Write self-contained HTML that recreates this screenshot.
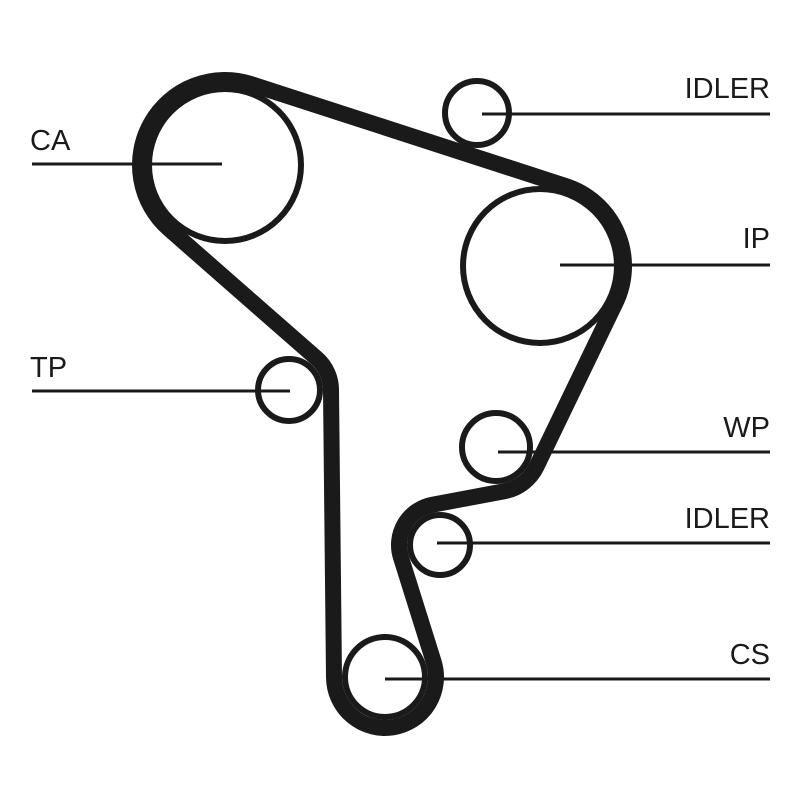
<!DOCTYPE html>
<html><head><meta charset="utf-8"><style>
html,body{margin:0;padding:0;background:#fff;width:800px;height:800px;overflow:hidden}
text{font-family:"Liberation Sans",sans-serif;font-size:29px;fill:#1a1a1a}
</style></head><body>
<svg id="s" width="800" height="800" viewBox="0 0 800 800" xmlns="http://www.w3.org/2000/svg">
<g fill="none" stroke="#1a1a1a" stroke-width="6">
<circle cx="225" cy="165" r="76"/>
<circle cx="477" cy="113" r="32"/>
<circle cx="540" cy="266" r="77"/>
<circle cx="289" cy="390" r="31"/>
<circle cx="496" cy="447" r="34"/>
<circle cx="440" cy="545" r="30"/>
<circle cx="385" cy="677" r="40"/>
</g>
<path id="belt" fill="none" stroke="#1a1a1a" stroke-width="16" stroke-linejoin="round" d=""/>
<g stroke="#1a1a1a" stroke-width="3">
<line x1="32" y1="164" x2="222" y2="164"/>
<line x1="482" y1="114" x2="770" y2="114"/>
<line x1="560" y1="265" x2="770" y2="265"/>
<line x1="32" y1="391" x2="290" y2="391"/>
<line x1="498" y1="452" x2="770" y2="452"/>
<line x1="437" y1="543" x2="770" y2="543"/>
<line x1="385" y1="679" x2="770" y2="679"/>
</g>
<text x="30" y="150">CA</text>
<text x="770" y="98" text-anchor="end">IDLER</text>
<text x="770" y="248" text-anchor="end">IP</text>
<text x="30" y="377">TP</text>
<text x="770" y="437" text-anchor="end">WP</text>
<text x="770" y="528" text-anchor="end">IDLER</text>
<text x="770" y="664" text-anchor="end">CS</text>
</svg>
<script>
(function(){
var P=[[225,165,85],[540,266,84],[496,447,45],[440,545,-41],[385,677,51],[289,390,-42]];
var n=P.length,T=[];
for(var i=0;i<n;i++){
 var A=P[i],B=P[(i+1)%n];
 var Dx=B[0]-A[0],Dy=B[1]-A[1],L2=Dx*Dx+Dy*Dy,k=B[2]-A[2],t=Math.sqrt(L2-k*k);
 var a=(t*Dx+k*Dy)/L2,b=(t*Dy-k*Dx)/L2;
 var rx=-b,ry=a;
 T.push([[A[0]-A[2]*rx,A[1]-A[2]*ry],[B[0]-B[2]*rx,B[1]-B[2]*ry]]);
}
var d="";
for(var i=0;i<n;i++){
 var seg=T[i],nxt=T[(i+1)%n],C=P[(i+1)%n];
 if(i==0)d+="M"+seg[0][0].toFixed(2)+" "+seg[0][1].toFixed(2);
 d+=" L"+seg[1][0].toFixed(2)+" "+seg[1][1].toFixed(2);
 var s=C[2],r=Math.abs(s);
 var a1=Math.atan2(seg[1][1]-C[1],seg[1][0]-C[0]),a2=Math.atan2(nxt[0][1]-C[1],nxt[0][0]-C[0]);
 var sw=s>0?1:0,da;
 if(sw){da=a2-a1;while(da<0)da+=2*Math.PI;}else{da=a1-a2;while(da<0)da+=2*Math.PI;}
 var la=da>Math.PI?1:0;
 d+=" A"+r+" "+r+" 0 "+la+" "+sw+" "+nxt[0][0].toFixed(2)+" "+nxt[0][1].toFixed(2);
}
d+=" Z";
document.getElementById("belt").setAttribute("d",d);
})();
</script>
</body></html>
